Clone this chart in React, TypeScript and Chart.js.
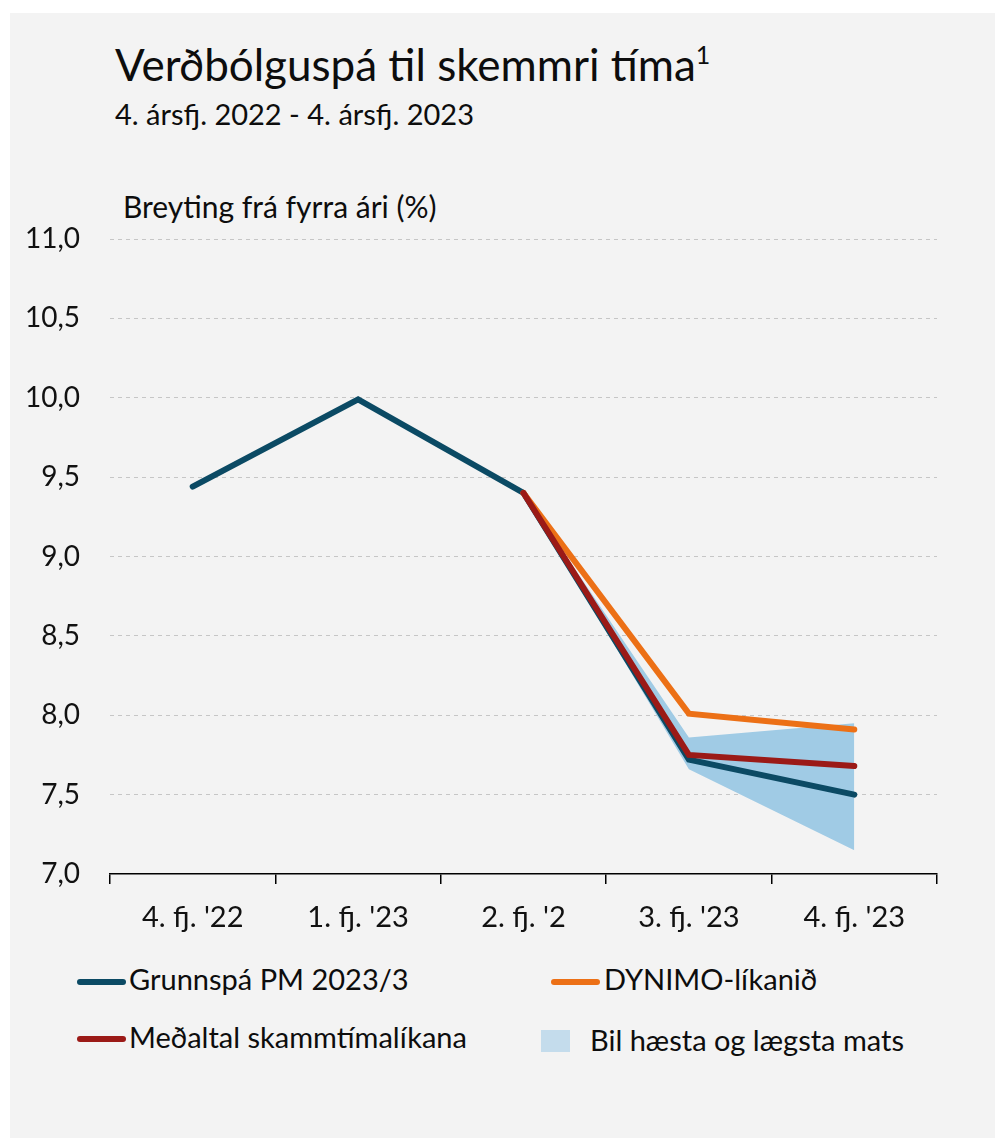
import React, { useEffect, useRef } from "react";
import { Chart, registerables } from "chart.js";

Chart.register(...registerables);

const categories = ["4. fj. '22", "1. fj. '23", "2. fj. '2", "3. fj. '23", "4. fj. '23"];
const grunnspa = [9.44, 9.99, 9.4, 7.72, 7.5];
const dynimo = [null, null, 9.4, 8.01, 7.91];
const medaltal = [null, null, 9.4, 7.75, 7.68];
const bandHigh = [null, null, 9.4, 7.86, 7.95];
const bandLow = [null, null, 9.4, 7.66, 7.15];
const yMin = 7;
const yMax = 11;
const yStep = 0.5;

const FONT = "Lato, 'Liberation Sans', sans-serif";
const TEAL = "#0b4a64";
const ORANGE = "#ec7016";
const RED = "#9b1a17";
const BAND = "#a0cbe5";
const BAND_LEGEND = "#c4dcec";

export default function App() {
  const canvasRef = useRef<HTMLCanvasElement | null>(null);

  useEffect(() => {
    const canvas = canvasRef.current;
    if (!canvas) return;
    const chart = new Chart(canvas, {
      type: "line",
      data: {
        labels: categories,
        datasets: [
          {
            label: "Grunnspá PM 2023/3",
            data: grunnspa,
            borderColor: TEAL,
            borderWidth: 6,
            pointRadius: 0,
            tension: 0,
            borderCapStyle: "round",
            borderJoinStyle: "miter",
            order: 3,
          },
          {
            label: "DYNIMO-líkanið",
            data: dynimo,
            borderColor: ORANGE,
            borderWidth: 6,
            pointRadius: 0,
            tension: 0,
            borderCapStyle: "round",
            borderJoinStyle: "miter",
            order: 2,
          },
          {
            label: "Meðaltal skammtímalíkana",
            data: medaltal,
            borderColor: RED,
            borderWidth: 6,
            pointRadius: 0,
            tension: 0,
            borderCapStyle: "round",
            borderJoinStyle: "miter",
            order: 1,
          },
          {
            label: "bandHigh",
            data: bandHigh,
            borderWidth: 0,
            borderColor: "rgba(0,0,0,0)",
            backgroundColor: BAND,
            pointRadius: 0,
            tension: 0,
            fill: false,
            order: 10,
          },
          {
            label: "Bil hæsta og lægsta mats",
            data: bandLow,
            borderWidth: 0,
            borderColor: "rgba(0,0,0,0)",
            backgroundColor: BAND,
            pointRadius: 0,
            tension: 0,
            fill: "-1",
            order: 9,
          },
        ],
      },
      options: {
        animation: false,
        responsive: false,
        maintainAspectRatio: false,
        layout: { padding: { left: 0, right: 58, top: 59, bottom: 6 } },
        plugins: {
          legend: { display: false },
          tooltip: { enabled: false },
          title: { display: false },
        },
        scales: {
          x: {
            offset: true,
            grid: {
              offset: true,
              drawOnChartArea: false,
              drawTicks: true,
              tickLength: 10,
              color: "#000000",
              lineWidth: 1.5,
            },
            border: { display: true, color: "#000000", width: 1.5 },
            ticks: {
              color: "#111111",
              font: { family: FONT, size: 29 },
              padding: 16,
              maxRotation: 0,
              autoSkip: false,
            },
            afterFit: (scale: any) => {
              scale.height = 80;
            },
          },
          y: {
            min: yMin,
            max: yMax,
            grid: {
              drawTicks: false,
              color: (ctx: any) => (ctx.tick && ctx.tick.value === yMin ? "rgba(0,0,0,0)" : "#c6c6c6"),
              lineWidth: 1,
            },
            border: { display: false, dash: [4, 4] },
            ticks: {
              stepSize: yStep,
              color: "#111111",
              font: { family: FONT, size: 28 },
              padding: 30,
              callback: (v: any) => Number(v).toFixed(1).replace(".", ","),
            },
            afterFit: (scale: any) => {
              scale.width = 100;
            },
          },
        },
      },
    });
    return () => chart.destroy();
  }, []);

  const text = { position: "absolute" as const, color: "#0d0d0d", fontFamily: FONT, whiteSpace: "nowrap" as const, lineHeight: 1 };

  return (
    <div style={{ position: "absolute", left: 0, top: 0, width: 995, height: 1138, background: "#ffffff", overflow: "hidden" }}>
      <div style={{ position: "absolute", left: 10, top: 13, width: 985, height: 1125, background: "#f3f3f3" }} />
      <div style={{ ...text, left: 115, top: 42, fontSize: 44 }}>
        Verðbólguspá til skemmri tíma<span style={{ fontSize: 25, position: "relative", top: -17 }}>1</span>
      </div>
      <div style={{ ...text, left: 115, top: 99, fontSize: 29 }}>4. ársfj. 2022 - 4. ársfj. 2023</div>
      <div style={{ ...text, left: 123, top: 191, fontSize: 30 }}>Breyting frá fyrra ári (%)</div>
      <canvas ref={canvasRef} width={985} height={780} style={{ position: "absolute", left: 10, top: 180, width: 985, height: 780 }} />
      {/* legend */}
      <div style={{ position: "absolute", left: 77, top: 979, width: 49, height: 6, borderRadius: 3, background: TEAL }} />
      <div style={{ ...text, left: 129, top: 964, fontSize: 29 }}>Grunnspá PM 2023/3</div>
      <div style={{ position: "absolute", left: 551, top: 979, width: 49, height: 6, borderRadius: 3, background: ORANGE }} />
      <div style={{ ...text, left: 604, top: 964, fontSize: 29 }}>DYNIMO-líkanið</div>
      <div style={{ position: "absolute", left: 77, top: 1036, width: 49, height: 6, borderRadius: 3, background: RED }} />
      <div style={{ ...text, left: 129, top: 1022, fontSize: 29 }}>Meðaltal skammtímalíkana</div>
      <div style={{ position: "absolute", left: 541, top: 1030, width: 29, height: 22, background: BAND_LEGEND }} />
      <div style={{ ...text, left: 590, top: 1025, fontSize: 29 }}>Bil hæsta og lægsta mats</div>
    </div>
  );
}
